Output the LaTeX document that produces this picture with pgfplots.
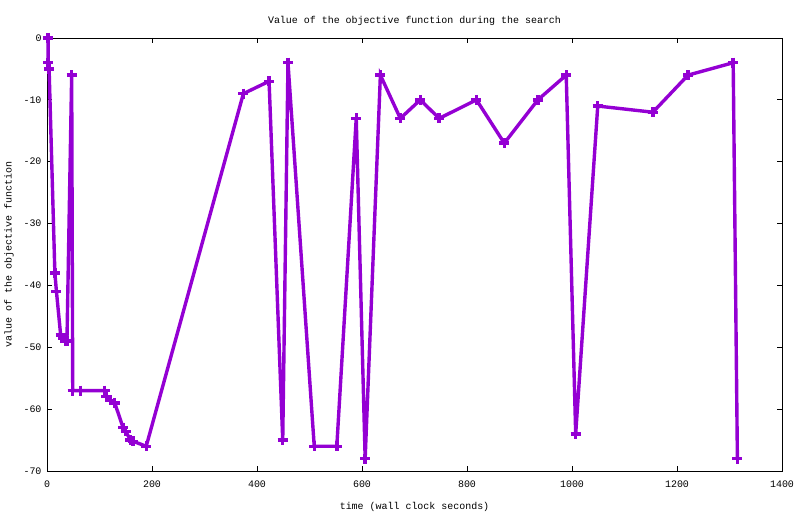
\documentclass[border=0pt]{standalone}
\usepackage{fontspec}
\setmainfont{Liberation Mono}
\setmonofont{Liberation Mono}
\usepackage{pgfplots}
\pgfplotsset{compat=1.18}
\definecolor{gpviolet}{HTML}{9400D3}
\begin{document}
\fontsize{10}{12}\selectfont
\begin{tikzpicture}[x=1bp,y=1bp]
\path[use as bounding box] (0,0) rectangle (800,514);
\begin{axis}[
  at={(47bp,43bp)}, anchor=south west,
  scale only axis, width=735bp, height=433bp,
  xmin=0, xmax=1400, ymin=-70, ymax=0,
  xtick={0,200,...,1400}, ytick={-70,-60,...,0},
  tick align=inside, major tick length=5bp,
  tick style={black, line width=0.8pt},
  axis line style={black, line width=0.8pt},
  every tick label/.append style={font=\fontsize{10}{12}\selectfont},
  /pgf/number format/assume math mode=true,
  /pgf/number format/1000 sep={},
  xticklabel style={yshift=-6bp},
  yticklabel style={xshift=-2bp},
  title={Value of the objective function during the search},
  title style={at={(0.5,1)}, yshift=3bp, font=\fontsize{10}{12}\selectfont},
  xlabel={time (wall clock seconds)},
  ylabel={value of the objective function},
  xlabel style={font=\fontsize{10}{12}\selectfont, yshift=-8bp},
  ylabel style={font=\fontsize{10}{12}\selectfont, yshift=3bp},
  clip=false,
]
\addplot[gpviolet, line width=3.4bp, mark=+, mark size=5bp,
  mark options={line width=3.4bp, solid}] coordinates {
(2,0) (2,-4) (4,-5) (15,-38) (18,-41) (26,-48) (30,-48.5) (35,-49) (38,-49)
(47,-6) (49,-57) (64,-57) (110,-57) (113,-58) (121,-58.6) (129,-59)
(145,-63) (150,-63.6) (159,-65) (164,-65.2) (189,-66) (374,-9) (423,-7)
(449,-65) (459,-4) (509,-66) (552,-66) (589,-13) (606,-68) (635,-6)
(673,-13) (711,-10) (747,-13) (818,-10) (871,-17) (935,-10) (989,-6)
(1007,-64) (1049,-11) (1154,-12) (1221,-6) (1307,-4) (1315,-68)
};
\end{axis}
\end{tikzpicture}
\end{document}
